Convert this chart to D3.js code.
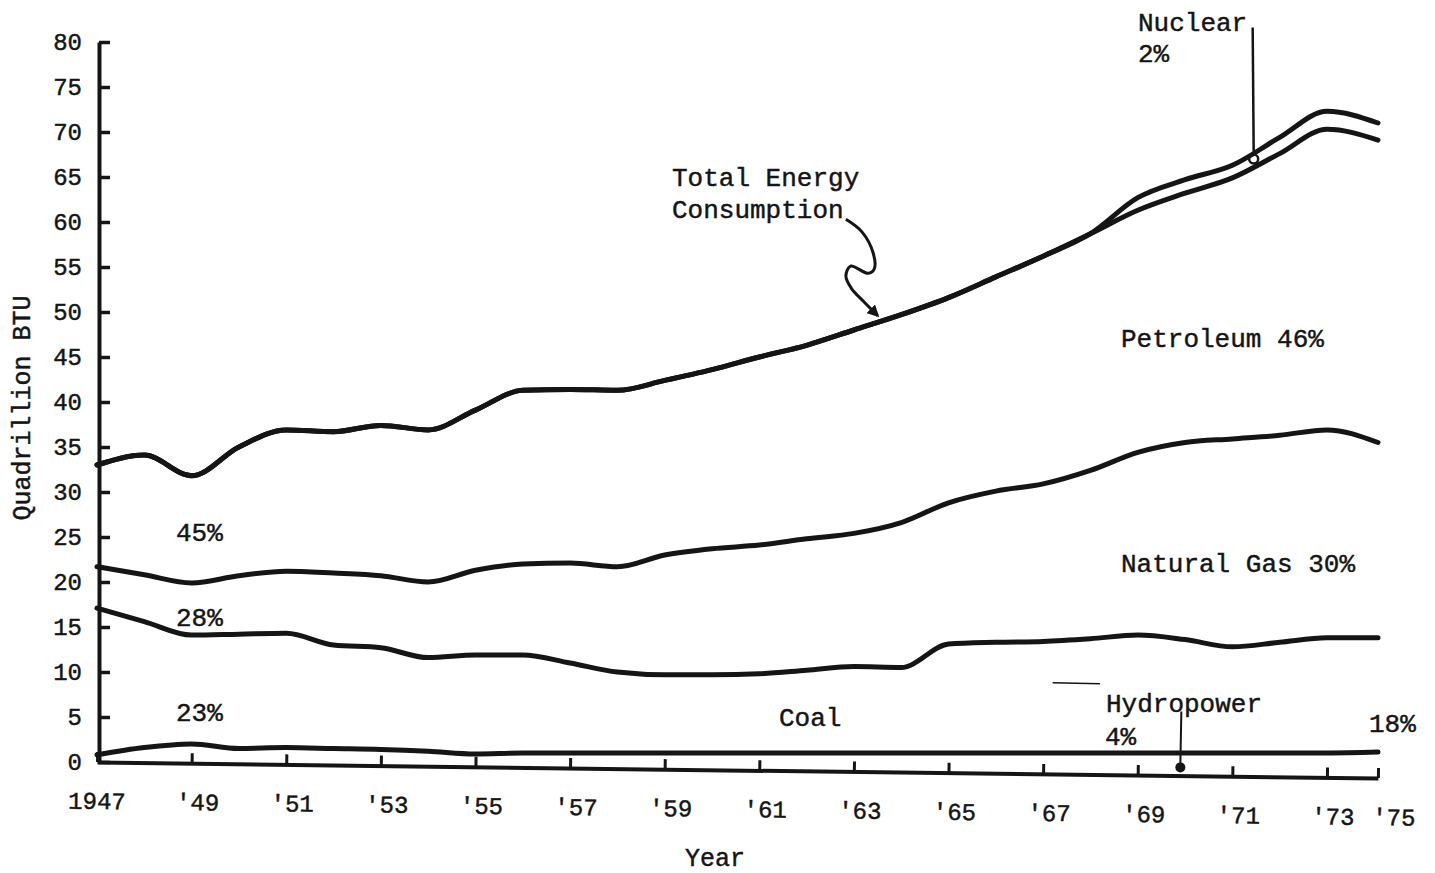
<!DOCTYPE html>
<html><head><meta charset="utf-8">
<script src="https://cdn.jsdelivr.net/npm/d3@7"></script>
<style>
body{margin:0;background:#fff;}
svg{display:block;background:#fff;}
text{font-family:"Liberation Mono","Courier New",monospace;fill:#151515;stroke:#151515;stroke-width:0.45px;}
</style></head><body>
<svg id="chart" width="1435" height="873"></svg>
<script>
// ---- data (Quadrillion BTU) ----
const years = [1947,1948,1949,1950,1951,1952,1953,1954,1955,1956,1957,1958,1959,1960,1961,1962,1963,1964,1965,1966,1967,1968,1969,1970,1971,1972,1973,1975];
const totalConsumption = [33.0,34.1,31.8,35.0,36.9,36.7,37.4,36.9,39.1,41.3,41.4,41.3,42.4,43.6,45.0,46.3,48.0,49.7,51.6,53.9,56.2,58.7,62.7,64.7,66.3,69.4,72.3,71.0];
const totalLessNuclear = [33.0,34.1,31.8,35.0,36.9,36.7,37.4,36.9,39.1,41.3,41.4,41.3,42.4,43.6,45.0,46.3,48.0,49.7,51.6,53.9,56.2,58.7,61.3,63.2,64.9,67.6,70.3,69.1];
const gasTop = [21.7,20.8,19.9,20.7,21.2,21.0,20.7,20.0,21.3,22.0,22.1,21.7,23.0,23.7,24.1,24.8,25.4,26.6,28.8,30.1,30.9,32.4,34.4,35.5,35.9,36.3,36.9,35.5];
const coalTop = [17.1,15.6,14.1,14.2,14.3,13.0,12.7,11.6,11.9,11.9,11.0,10.0,9.7,9.7,9.8,10.2,10.6,10.5,13.1,13.3,13.4,13.7,14.1,13.6,12.8,13.3,13.8,13.8];
const hydroTop = [0.8,1.6,2.0,1.5,1.6,1.5,1.4,1.2,0.9,1.0,1.0,1.0,1.0,1.0,1.0,1.0,1.0,1.0,1.0,1.0,1.0,1.0,1.0,1.0,1.0,1.0,1.0,1.1];

const yTicks = [0,5,10,15,20,25,30,35,40,45,50,55,60,65,70,75,80];
const xTicks = [1947,1949,1951,1953,1955,1957,1959,1961,1963,1965,1967,1969,1971,1973,1975];
const xTickLabels = ["1947","'49","'51","'53","'55","'57","'59","'61","'63","'65","'67","'69","'71","'73","'75"];

// ---- chart ----
const svg = d3.select("#chart");
const x = d3.scaleLinear().domain([1947, 1973, 1975]).range([97, 1327, 1378]);
const y = d3.scaleLinear().domain([0, 80]).range([762, 42]);
const ink = "#151515";

// y axis
const yAxis = svg.append("g").attr("transform", "translate(99,0)")
  .call(d3.axisLeft(y).tickValues(yTicks).tickSizeInner(-11).tickSizeOuter(0).tickPadding(17).tickFormat(d3.format("d")));
yAxis.select(".domain").attr("stroke", ink).attr("stroke-width", 4);
yAxis.selectAll(".tick line").attr("stroke", ink).attr("stroke-width", 3.5);
yAxis.selectAll(".tick text").style("font-family", '"Liberation Mono",monospace').style("font-size", "24px").attr("fill", ink);

// x axis (slightly tilted as in the hand-drawn original)
const xAxis = svg.append("g").attr("transform", "translate(0,762) rotate(0.72 97 0)")
  .call(d3.axisBottom(x).tickValues(xTicks).tickSizeInner(-10).tickSizeOuter(0).tickPadding(30)
    .tickFormat((d, i) => xTickLabels[i]));
xAxis.select(".domain").attr("stroke", ink).attr("stroke-width", 4);
xAxis.selectAll(".tick line").attr("stroke", ink).attr("stroke-width", 3);
xAxis.selectAll(".tick text").style("font-family", '"Liberation Mono",monospace').style("font-size", "24px")
  .attr("fill", ink).attr("dx", (d, i) => i === 0 ? "0px" : (i === xTicks.length - 1 ? "16px" : "6px"));

// series lines
const line = d3.line().x(d => x(d[0])).y(d => y(d[1])).curve(d3.curveMonotoneX);
const series = [totalLessNuclear, totalConsumption, gasTop, coalTop, hydroTop];
svg.append("g").selectAll("path").data(series).join("path")
  .attr("d", s => line(years.map((yr, i) => [yr, s[i]])))
  .attr("fill", "none").attr("stroke", ink).attr("stroke-width", 5)
  .attr("stroke-linecap", "round").attr("stroke-linejoin", "round");

// axis titles
svg.append("text").attr("transform", "translate(30,408) rotate(-90)").attr("text-anchor", "middle")
  .style("font-size", "25px").text("Quadrillion BTU");
svg.append("text").attr("x", 715).attr("y", 866).attr("text-anchor", "middle")
  .style("font-size", "25px").text("Year");

// annotations
const notes = [
  ["Nuclear", 1138, 31], ["2%", 1138, 62],
  ["Total Energy", 672, 186], ["Consumption", 672, 218],
  ["Petroleum 46%", 1121, 347],
  ["Natural Gas 30%", 1121, 572],
  ["45%", 176, 541], ["28%", 176, 626], ["23%", 176, 721],
  ["Coal", 779, 726],
  ["Hydropower", 1106, 712], ["4%", 1105, 745],
  ["18%", 1369, 732]
];
svg.append("g").selectAll("text").data(notes).join("text")
  .attr("x", d => d[1]).attr("y", d => d[2]).style("font-size", "26px").text(d => d[0]);

// nuclear leader + marker
const nucYear = 1971.45;
svg.append("line").attr("x1", x(nucYear) - 1).attr("x2", x(nucYear)).attr("y1", y(81.6)).attr("y2", y(67.8))
  .attr("stroke", ink).attr("stroke-width", 2.5);
svg.append("circle").attr("cx", x(nucYear)).attr("cy", y(67.0)).attr("r", 4.5)
  .attr("fill", "none").attr("stroke", ink).attr("stroke-width", 2.5);

// hydropower leader + marker
const hydYear = 1969.9;
svg.append("line").attr("x1", x(hydYear) + 1).attr("x2", x(hydYear)).attr("y1", y(5.6)).attr("y2", y(-0.3))
  .attr("stroke", ink).attr("stroke-width", 2);
svg.append("circle").attr("cx", x(hydYear)).attr("cy", y(-0.6)).attr("r", 5).attr("fill", ink);

// squiggly arrow for Total Energy Consumption
const squiggle = [[1962.83,60.3],[1963.17,58.9],[1963.41,56.5],[1963.43,54.8],[1963.30,54.3],[1962.93,55.1],[1962.83,54.0],[1962.95,52.6],[1963.2,51.2],[1963.50,49.6]];
svg.append("defs").append("marker").attr("id", "arrow").attr("viewBox", "0 0 10 10")
  .attr("refX", 8).attr("refY", 5).attr("markerWidth", 4).attr("markerHeight", 4).attr("orient", "auto")
  .append("path").attr("d", "M0,0 L10,5 L0,10 z").attr("fill", ink);
svg.append("path").attr("d", d3.line().x(d => x(d[0])).y(d => y(d[1])).curve(d3.curveCatmullRom)(squiggle))
  .attr("fill", "none").attr("stroke", ink).attr("stroke-width", 3).attr("marker-end", "url(#arrow)");

// stray pen stroke on the original
svg.append("line").attr("x1", x(1967.2)).attr("x2", x(1968.2)).attr("y1", y(8.8)).attr("y2", y(8.7))
  .attr("stroke", ink).attr("stroke-width", 1.5);
</script>
</body></html>
